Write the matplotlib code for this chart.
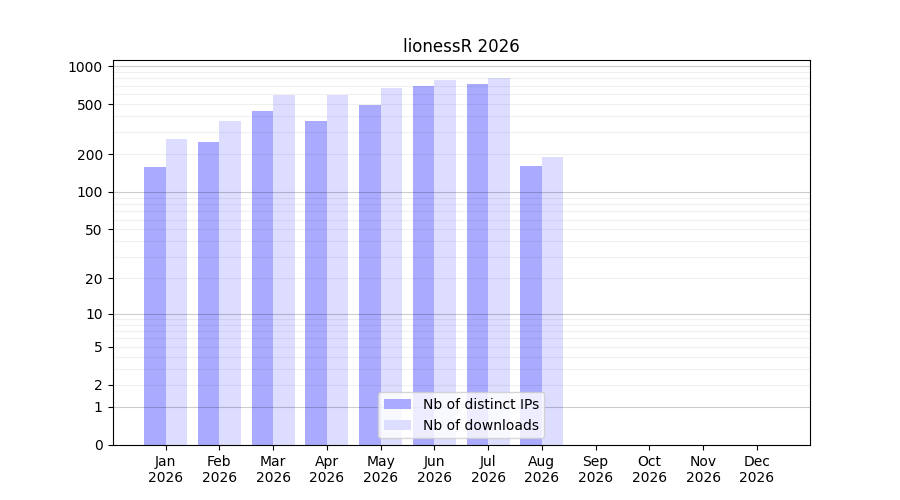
import numpy as np
import matplotlib
matplotlib.use("Agg")
import matplotlib.pyplot as plt

months = ["Jan", "Feb", "Mar", "Apr", "May", "Jun", "Jul", "Aug", "Sep", "Oct", "Nov", "Dec"]
year = "2026"
distinct_ips = [159, 250, 440, 366, 491, 694, 720, 161, 0, 0, 0, 0]
downloads = [264, 366, 590, 592, 670, 775, 804, 190, 0, 0, 0, 0]
yticks = [0, 1, 2, 5, 10, 20, 50, 100, 200, 500, 1000]

fig, ax = plt.subplots(figsize=(9, 5), dpi=100)

def fwd(v):
    return np.log10(1 + np.clip(v, 0, None))

def inv(v):
    return 10 ** v - 1

ax.set_yscale("function", functions=(fwd, inv))

x = np.arange(len(months))
ax.bar(x - 0.4, distinct_ips, width=0.4, align="edge", color="#aaaaff", label="Nb of distinct IPs")
ax.bar(x, downloads, width=0.4, align="edge", color="#ddddff", label="Nb of downloads")

for dec in [1, 10, 100, 1000]:
    ax.axhline(dec, color="black", alpha=0.2, lw=0.8, zorder=3)
for dec in [1, 10, 100]:
    for k in range(2, 10):
        ax.axhline(k * dec, color="black", alpha=0.06, lw=0.8, zorder=3)

ax.set_ylim(0, 1120)
ax.set_yticks(yticks)
ax.set_yticklabels([str(t) for t in yticks])
ax.minorticks_off()
ax.set_xticks(x)
ax.set_xticklabels([f"{m}\n{year}" for m in months])
ax.set_title(f"lionessR {year}")
ax.legend(loc="lower center")

fig.savefig("out.png")
